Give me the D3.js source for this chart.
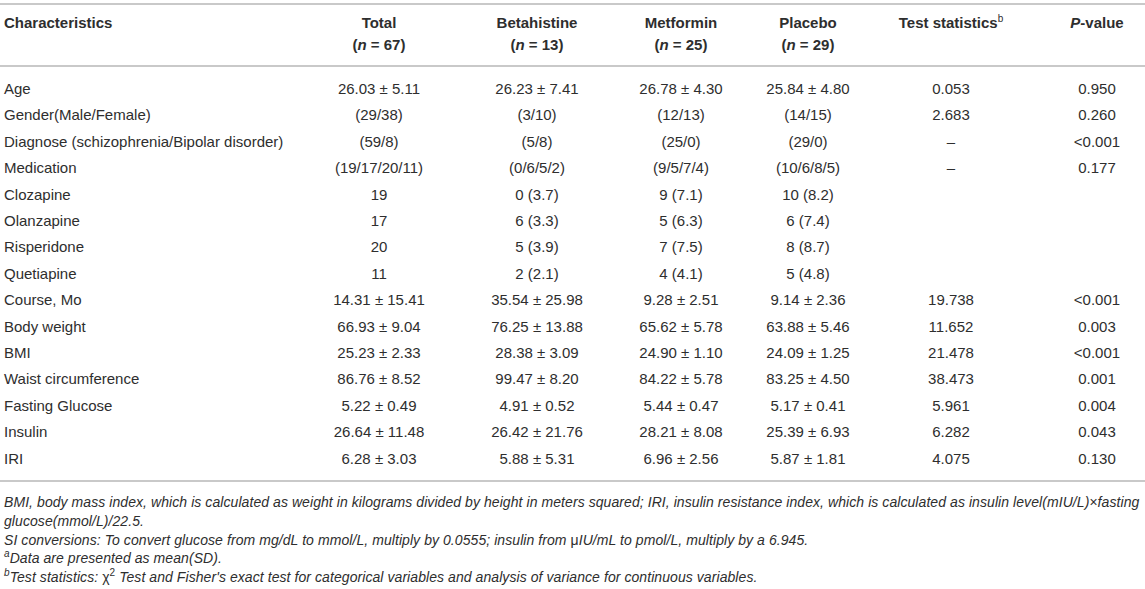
<!DOCTYPE html>
<html>
<head>
<meta charset="utf-8">
<script src="https://cdn.jsdelivr.net/npm/d3@7/dist/d3.min.js"></script>
<style>
  html, body { margin: 0; padding: 0; background: #fff; }
  svg text { font-family: "Liberation Sans", Arial, Helvetica, sans-serif; fill: #2e2e2e; }
</style>
</head>
<body>
<svg id="tbl" width="1145" height="589"></svg>
<script>
// ---- data ----
const columnKeys = ["label", "total", "betahistine", "metformin", "placebo", "stat", "p"];
const headerTitles = ["Characteristics", "Total", "Betahistine", "Metformin", "Placebo", "Test statistics", "P-value"];
const headerN = [null, "67", "13", "25", "29", null, null];

const rowLabels = ["Age", "Gender(Male/Female)", "Diagnose (schizophrenia/Bipolar disorder)", "Medication",
  "Clozapine", "Olanzapine", "Risperidone", "Quetiapine", "Course, Mo", "Body weight", "BMI",
  "Waist circumference", "Fasting Glucose", "Insulin", "IRI"];
const totalValues = ["26.03 ± 5.11", "(29/38)", "(59/8)", "(19/17/20/11)", "19", "17", "20", "11",
  "14.31 ± 15.41", "66.93 ± 9.04", "25.23 ± 2.33", "86.76 ± 8.52", "5.22 ± 0.49", "26.64 ± 11.48", "6.28 ± 3.03"];
const betahistineValues = ["26.23 ± 7.41", "(3/10)", "(5/8)", "(0/6/5/2)", "0 (3.7)", "6 (3.3)", "5 (3.9)", "2 (2.1)",
  "35.54 ± 25.98", "76.25 ± 13.88", "28.38 ± 3.09", "99.47 ± 8.20", "4.91 ± 0.52", "26.42 ± 21.76", "5.88 ± 5.31"];
const metforminValues = ["26.78 ± 4.30", "(12/13)", "(25/0)", "(9/5/7/4)", "9 (7.1)", "5 (6.3)", "7 (7.5)", "4 (4.1)",
  "9.28 ± 2.51", "65.62 ± 5.78", "24.90 ± 1.10", "84.22 ± 5.78", "5.44 ± 0.47", "28.21 ± 8.08", "6.96 ± 2.56"];
const placeboValues = ["25.84 ± 4.80", "(14/15)", "(29/0)", "(10/6/8/5)", "10 (8.2)", "6 (7.4)", "8 (8.7)", "5 (4.8)",
  "9.14 ± 2.36", "63.88 ± 5.46", "24.09 ± 1.25", "83.25 ± 4.50", "5.17 ± 0.41", "25.39 ± 6.93", "5.87 ± 1.81"];
const statValues = ["0.053", "2.683", "–", "–", "", "", "", "", "19.738", "11.652", "21.478", "38.473", "5.961", "6.282", "4.075"];
const pValues = ["0.950", "0.260", "<0.001", "0.177", "", "", "", "", "<0.001", "0.003", "<0.001", "0.001", "0.004", "0.043", "0.130"];

const footnotes = [
  [{t: "BMI, body mass index, which is calculated as weight in kilograms divided by height in meters squared; IRI, insulin resistance index, which is calculated as insulin level(mIU/L)×fasting"}],
  [{t: "glucose(mmol/L)/22.5."}],
  [{t: "SI conversions: To convert glucose from mg/dL to mmol/L, multiply by 0.0555; insulin from "}, {t: "μ", up: true}, {t: "IU/mL to pmol/L, multiply by a 6.945."}],
  [{t: "a", sup: true}, {t: "Data are presented as mean(SD)."}],
  [{t: "b", sup: true}, {t: "Test statistics: "}, {t: "χ", up: true}, {t: "2", sup: true, up: true}, {t: " Test and Fisher's exact test for categorical variables and analysis of variance for continuous variables."}]
];

// ---- layout ----
const svg = d3.select("#tbl");
const W = 1145;
const colX = d3.scaleOrdinal().domain(columnKeys).range([4, 379, 537, 681, 808, 951, 1097]);
const rowY = d3.scalePoint().domain(d3.range(rowLabels.length)).range([94, 463.6]);
const noteY = d3.scalePoint().domain(d3.range(footnotes.length)).range([507, 582]);
const fs = 15;

// rules
const rules = [4, 66, 481];
svg.selectAll("line.rule").data(rules).join("line")
  .attr("class", "rule")
  .attr("x1", 0).attr("x2", W)
  .attr("y1", d => d).attr("y2", d => d)
  .attr("stroke", "#c9c9c9").attr("stroke-width", 2);

// header
const hdr = svg.append("g").attr("font-weight", "bold").attr("font-size", fs);
columnKeys.forEach((k, i) => {
  const anchor = i === 0 ? "start" : "middle";
  const t = hdr.append("text").attr("x", colX(k)).attr("y", 28).attr("text-anchor", anchor);
  if (k === "p") {
    t.append("tspan").attr("font-style", "italic").text("P");
    t.append("tspan").text("-value");
  } else if (k === "stat") {
    t.append("tspan").text(headerTitles[i]);
    t.append("tspan").attr("font-size", 10).attr("dy", -6).attr("font-weight", "normal").text("b");
  } else {
    t.text(headerTitles[i]);
  }
  if (headerN[i]) {
    const n = hdr.append("text").attr("x", colX(k)).attr("y", 50).attr("text-anchor", "middle");
    n.append("tspan").text("(");
    n.append("tspan").attr("font-style", "italic").text("n");
    n.append("tspan").text(" = " + headerN[i] + ")");
  }
});

// body rows
const cols = {
  label: rowLabels, total: totalValues, betahistine: betahistineValues,
  metformin: metforminValues, placebo: placeboValues, stat: statValues, p: pValues
};
const body = svg.append("g").attr("font-size", fs);
columnKeys.forEach((k, ci) => {
  body.selectAll("text.c" + ci).data(cols[k]).join("text")
    .attr("class", "c" + ci)
    .attr("x", colX(k))
    .attr("y", (d, i) => rowY(i))
    .attr("text-anchor", ci === 0 ? "start" : "middle")
    .text(d => d);
});

// footnotes
const notes = svg.append("g").attr("font-size", 14).attr("font-style", "italic")
  .attr("letter-spacing", 0.07);
footnotes.forEach((parts, i) => {
  const t = notes.append("text").attr("x", 4).attr("y", noteY(i));
  let raised = false;
  parts.forEach(p => {
    const s = t.append("tspan").text(p.t);
    if (p.up) s.attr("font-style", "normal");
    if (p.sup) { s.attr("font-size", 10).attr("dy", -6); raised = true; }
    else if (raised) { s.attr("dy", 6); raised = false; }
  });
});
</script>
</body>
</html>
